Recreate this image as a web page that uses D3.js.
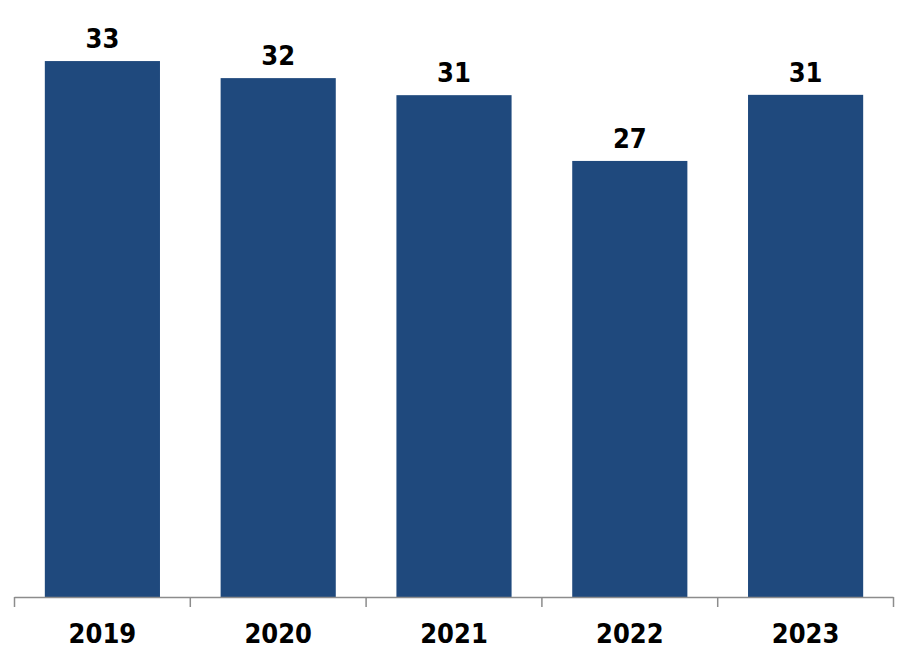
<!DOCTYPE html>
<html>
<head>
<meta charset="utf-8">
<script src="https://cdn.jsdelivr.net/npm/d3@7"></script>
<style>
  body { margin: 0; background: #fff; }
  svg { display: block; }
</style>
</head>
<body>
<div id="chart"></div>
<script>
var years = ["2019", "2020", "2021", "2022", "2023"];
// bar heights; labels are shown rounded
var values = [33.0, 31.95, 30.9, 26.85, 30.92];

var width = 909,
    height = 659;

var svg = d3.select("#chart").append("svg")
    .attr("width", width)
    .attr("height", height);

var x = d3.scaleBand()
    .domain(years)
    .range([14.5, 893.5])
    .paddingInner(0.345)
    .paddingOuter(0.1725);

var baseY = 597;
var y = d3.scaleLinear()
    .domain([0, 36.76])
    .range([baseY, 0]);

var labelFont = "'DejaVu Sans Condensed', 'DejaVu Sans', sans-serif";

// bars
svg.selectAll("rect.bar")
    .data(values)
  .enter().append("rect")
    .attr("class", "bar")
    .attr("x", function(d, i) { return x(years[i]); })
    .attr("y", function(d) { return y(d); })
    .attr("width", x.bandwidth())
    .attr("height", function(d) { return baseY - y(d); })
    .style("fill", "#1f497d");

// value labels
svg.selectAll("text.val")
    .data(values)
  .enter().append("text")
    .attr("class", "val")
    .attr("x", function(d, i) { return x(years[i]) + x.bandwidth() / 2; })
    .attr("y", function(d) { return y(d) - 13; })
    .attr("text-anchor", "middle")
    .attr("font-family", labelFont)
    .attr("font-weight", "bold")
    .attr("font-size", "27px")
    .attr("fill", "#000")
    .text(function(d) { return Math.round(d); });

// x axis: line with boundary ticks between categories
var step = x.step();
var edges = d3.range(years.length + 1).map(function(i) { return 14.5 + i * step; });
var axis = svg.append("g").attr("class", "x-axis");
axis.append("line")
    .attr("x1", edges[0]).attr("x2", edges[edges.length - 1])
    .attr("y1", baseY + 0.5).attr("y2", baseY + 0.5)
    .attr("stroke", "#8c8c8c").attr("stroke-width", 1.5);
axis.selectAll("line.tick")
    .data(edges)
  .enter().append("line")
    .attr("class", "tick")
    .attr("x1", function(d) { return d; }).attr("x2", function(d) { return d; })
    .attr("y1", baseY).attr("y2", baseY + 10)
    .attr("stroke", "#8c8c8c").attr("stroke-width", 1.5);
axis.selectAll("text")
    .data(years)
  .enter().append("text")
    .attr("x", function(d) { return x(d) + x.bandwidth() / 2; })
    .attr("y", 643)
    .attr("text-anchor", "middle")
    .attr("font-family", labelFont)
    .attr("font-weight", "bold")
    .attr("font-size", "27px")
    .attr("fill", "#000")
    .text(function(d) { return d; });
</script>
</body>
</html>
